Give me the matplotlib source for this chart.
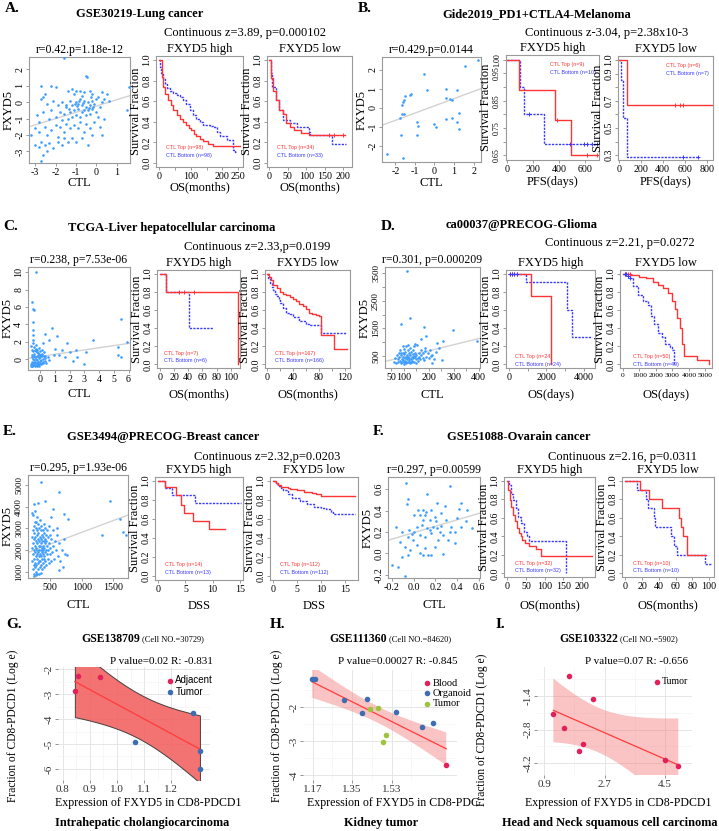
import numpy as np
import matplotlib.pyplot as plt

plt.rcParams['font.family'] = ['Liberation Serif', 'DejaVu Serif']

# ---------------- scatter data (CTL, FXYD5) ----------------
a_pts = [(-1.6, 2.7), (-0.5, 1.6), (-0.45, 1.55), (-2.7, 1.0), (-2.2, 1.0), (-2.0, 0.9), (-1.4, 0.7), (-1.2, 0.8),
         (-1.0, 0.7), (-0.8, 0.7), (-0.6, 0.6), (-0.3, 0.7), (0.3, 0.6), (0.5, 0.5), (1.6, 0.9), (-2.5, 0.5),
         (-1.1, 0.5), (-0.7, 0.4), (-0.2, 0.5), (0.1, 0.3), (0.4, 0.2), (-2.6, 0.3), (-2.7, 0.2), (-2.4, -0.1),
         (-2.1, 0.1), (-1.9, -0.2), (-1.7, 0.0), (-1.5, -0.3), (-1.3, 0.1), (-1.2, -0.2), (-1.0, 0.0), (-0.9, -0.1),
         (-0.8, 0.2), (-0.7, -0.2), (-0.6, 0.1), (-0.5, -0.3), (-0.4, 0.0), (-0.3, -0.2), (-0.2, 0.1), (-0.1, -0.1),
         (0.0, 0.2), (0.2, -0.3), (0.3, 0.0), (0.6, 0.1), (1.5, -0.5), (-2.9, -0.8), (-2.8, -1.2), (-2.6, -0.6),
         (-2.3, -1.0), (-2.2, -0.5), (-2.0, -0.9), (-1.8, -0.6), (-1.7, -1.1), (-1.6, -0.7), (-1.4, -1.0),
         (-1.3, -0.6), (-1.2, -0.9), (-1.1, -0.5), (-1.0, -0.8), (-0.9, -0.4), (-0.8, -0.9), (-0.7, -0.6),
         (-0.6, -0.5), (-0.5, -0.8), (-0.4, -0.5), (-0.3, -0.7), (-0.2, -0.4), (0.0, -0.6), (0.1, -0.9),
         (-1.5, -0.2), (-0.95, -0.25), (-0.35, -0.35), (-3.2, -2.0), (-3.0, -1.6), (-2.8, -1.8), (-2.7, -2.4),
         (-2.5, -1.5), (-2.4, -2.0), (-2.2, -1.7), (-2.0, -1.4), (-1.9, -2.1), (-1.8, -1.5), (-1.6, -1.8),
         (-1.5, -1.3), (-1.3, -1.6), (-1.2, -2.2), (-1.1, -1.4), (-0.9, -1.6), (-0.8, -1.2), (-0.6, -1.8),
         (-0.5, -1.3), (-0.3, -1.6), (-0.1, -1.2), (0.2, -1.5), (0.4, -1.0), (-3.0, -2.6), (-2.8, -2.7),
         (-2.6, -3.2), (-2.5, -2.6), (-2.3, -2.5), (-2.1, -2.8), (-1.9, -2.4), (-1.7, -2.6), (-1.4, -2.4),
         (-1.0, -2.4), (-0.7, -2.2), (-0.4, -2.6), (0.3, -2.0), (-2.7, -3.6), (-2.4, -3.0), (-1.6, -2.2),
         (-0.2, -2.0), (-1.05, -0.1), (-0.65, -0.05), (-0.15, -0.3), (-1.35, -0.4), (-0.85, 0.1), (-0.25, 0.3)]
a_fit = (-0.233, 0.384)

b_pts = [(2.25, 2.54), (1.58, 2.19), (-0.52, 1.77), (-0.40, 0.93), (-1.19, 0.75), (-1.24, 0.70), (-1.53, 0.63),
         (-1.58, 0.40), (-1.61, 0.32), (-1.65, 0.18), (-1.65, -0.30), (-1.75, -0.53), (-1.56, -0.30), (0.61, 0.98),
         (0.61, 0.54), (0.82, 0.46), (0.91, 0.44), (1.16, 0.93), (1.24, -0.25), (0.91, -0.53), (0.57, -0.56),
         (1.16, -0.74), (1.28, -1.09), (-0.89, -0.74), (-0.86, -0.96), (-0.02, -0.86), (0.10, -1.00),
         (-0.91, -1.40), (-1.73, -1.42), (-1.61, -2.65), (-2.40, -2.44)]
b_fit = (0.111, 0.381)

c_pts = [(-0.3, 10.0), (-0.55, 6.6), (-0.5, 5.8), (-0.45, 5.6), (-0.5, 4.3), (-0.5, 3.4), (0.8, 3.6), (0.3, 2.9),
         (-0.5, 2.8), (1.1, 2.7), (3.6, 2.2), (5.5, 4.6), (5.9, 2.0), (5.3, 1.4), (5.5, 0.2), (5.3, 0.5),
         (1.8, 1.8), (2.4, 1.1), (3.1, 0.8), (2.0, 0.8), (1.5, 1.0), (1.0, 1.2), (0.6, 2.2), (0.2, 1.8),
         (1.3, 0.5), (2.2, -0.2), (3.0, -0.6), (1.7, 0.2), (0.9, 0.5), (2.5, 0.2),
         (-0.65, -0.6), (-0.6, -0.3), (-0.6, 0.2), (-0.55, -0.7), (-0.55, 0.5), (-0.5, -0.5), (-0.5, 0.0),
         (-0.5, 0.9), (-0.45, -0.4), (-0.45, 0.3), (-0.4, -0.6), (-0.4, -0.1), (-0.4, 0.6), (-0.35, -0.3),
         (-0.35, 0.2), (-0.3, -0.7), (-0.3, 0.0), (-0.3, 1.2), (-0.25, -0.4), (-0.25, 0.4), (-0.2, -0.5),
         (-0.2, -0.1), (-0.2, 0.8), (-0.15, -0.3), (-0.15, 0.3), (-0.1, -0.6), (-0.1, 0.1), (-0.05, -0.2),
         (-0.05, 0.5), (0.0, -0.4), (0.0, 0.2), (0.05, -0.1), (0.1, -0.5), (0.1, 0.4), (0.15, 0.0),
         (0.2, -0.3), (0.25, 0.3), (0.3, -0.2), (0.35, 0.1), (0.4, -0.4), (0.5, 0.2), (0.6, -0.1),
         (-0.62, 1.5), (-0.58, 1.0), (-0.52, 1.8), (-0.48, 2.2), (-0.42, 1.4), (-0.38, 1.1), (-0.32, 0.9),
         (-0.28, 1.6), (-0.22, 1.0), (-0.18, 0.7), (-0.12, 1.3), (-0.08, 0.6), (-0.02, 0.9), (0.04, 0.5),
         (0.08, 1.1), (0.14, 0.6), (0.22, 0.8), (0.32, 0.3), (-0.66, -0.8), (-0.6, -0.75), (-0.54, -0.8),
         (-0.46, -0.7), (-0.36, -0.8), (-0.26, -0.75), (-0.16, -0.7), (-0.06, -0.8), (0.06, -0.6), (0.18, -0.5)]
c_fit = (0.3, 0.25)

d_pts = [(113, 3570), (126, 1880), (90, 1670), (180, 1550), (296, 1450), (393, 1040), (189, 1230), (170, 1130),
         (257, 1030), (234, 970), (146, 950), (253, 340), (213, 550), (211, 250), (184, 670),
         (60, 300), (65, 420), (70, 250), (72, 520), (75, 380), (78, 300), (80, 600), (82, 450), (85, 330),
         (86, 700), (88, 260), (90, 520), (92, 400), (94, 300), (95, 620), (97, 470), (98, 350), (100, 280),
         (100, 750), (102, 560), (104, 420), (105, 330), (106, 650), (108, 480), (110, 300), (110, 860),
         (112, 540), (114, 390), (115, 280), (116, 700), (118, 470), (120, 350), (120, 600), (122, 420),
         (124, 300), (125, 800), (126, 520), (128, 380), (130, 640), (131, 450), (133, 320), (135, 560),
         (136, 700), (138, 410), (140, 500), (142, 300), (144, 620), (146, 450), (148, 380), (150, 540),
         (152, 900), (155, 420), (158, 330), (160, 600), (162, 480), (165, 380), (168, 720), (170, 520),
         (175, 430), (178, 600), (182, 350), (185, 780), (190, 480), (195, 600), (200, 420), (205, 700),
         (210, 500), (220, 380), (228, 650), (240, 800), (150, 250), (125, 230), (100, 200), (88, 620),
         (140, 850), (118, 900), (96, 850), (132, 270), (108, 240)]
d_fit = (247, 2.205)

e_pts = [(358, 5150), (647, 4660), (315, 4180), (421, 4260), (237, 4120), (1448, 4270), (1606, 3440),
         (1658, 2840), (1700, 2690), (1316, 2680), (552, 3880), (726, 3660), (789, 3420), (516, 3510),
         (606, 3000), (763, 1770), (647, 1080), (221, 3690), (274, 3300),
         (210, 2100), (215, 1500), (220, 2600), (225, 1100), (230, 2900), (232, 1800), (235, 2300), (238, 1300),
         (240, 3100), (242, 2000), (245, 900), (248, 2500), (250, 1600), (252, 2800), (255, 1200), (258, 2200),
         (260, 3300), (262, 1900), (265, 1400), (268, 2600), (270, 1000), (272, 2400), (275, 1700), (278, 3000),
         (280, 2100), (282, 1300), (285, 2700), (288, 1800), (290, 2300), (292, 900), (295, 2900), (298, 1600),
         (300, 2000), (302, 3200), (305, 1400), (308, 2500), (310, 1900), (312, 1100), (315, 2800), (318, 2200),
         (320, 1700), (322, 3000), (325, 1500), (328, 2400), (330, 2000), (332, 1200), (335, 2600), (338, 1800),
         (340, 3400), (342, 2200), (345, 1500), (348, 2900), (350, 2000), (352, 1300), (355, 2500), (358, 1700),
         (360, 3100), (362, 2300), (365, 1900), (368, 1100), (370, 2700), (372, 2100), (375, 1600), (378, 2400),
         (380, 2900), (382, 1800), (385, 2200), (388, 1400), (390, 2600), (392, 2000), (395, 3200), (398, 1700),
         (400, 2400), (402, 1200), (405, 2800), (408, 2100), (410, 1600), (412, 2500), (415, 1900), (418, 3000),
         (420, 2300), (425, 1500), (428, 2700), (430, 2000), (435, 1300), (440, 2400), (445, 1800), (450, 2900),
         (455, 2200), (460, 1600), (465, 2600), (470, 2000), (475, 1400), (480, 3100), (485, 2300), (490, 1800),
         (495, 2700), (500, 2100), (510, 1500), (520, 2500), (530, 1900), (540, 2900), (550, 2200), (560, 1600),
         (575, 2400), (590, 2000), (605, 2700), (620, 1700), (640, 2300), (660, 1500), (680, 2000), (700, 1200),
         (720, 2500), (740, 1800), (250, 800), (280, 850), (320, 900), (360, 950), (225, 3600), (265, 3800),
         (300, 3500)]
e_fit = (1716, 1.095)

f_pts = [(-0.073, 0.66), (0.33, 0.63), (0.127, 0.56), (-0.048, 0.51), (-0.064, 0.46), (0.218, 0.475),
         (0.042, 0.41), (0.088, 0.41), (0.118, 0.39), (0.006, 0.36), (0.058, 0.36), (0.109, 0.36), (0.164, 0.41),
         (0.255, 0.375), (0.194, 0.344), (0.285, 0.44), (0.42, 0.42), (0.436, 0.475), (0.40, 0.33), (0.48, 0.30),
         (-0.158, 0.244), (-0.103, 0.20), (-0.042, 0.22), (0.027, 0.25), (0.073, 0.265), (0.127, 0.234),
         (0.18, 0.25), (0.218, 0.234), (0.255, 0.256), (0.345, 0.25), (0.33, 0.20), (0.376, 0.20), (0.164, 0.19),
         (0.103, 0.156), (0.058, 0.17), (-0.048, 0.156), (-0.003, 0.125), (0.27, 0.17), (-0.124, 0.11),
         (0.027, 0.078), (-0.079, 0.0625), (-0.033, 0.031), (0.103, 0.047), (0.194, 0.0625), (0.058, 0.0),
         (0.088, -0.016), (0.133, -0.016), (0.164, -0.016), (0.27, -0.006), (-0.109, -0.03), (-0.194, -0.11),
         (-0.14, -0.125), (-0.079, -0.21), (-0.048, -0.016), (0.224, 0.125), (0.315, 0.125), (0.376, 0.094),
         (0.148, 0.22), (0.24, 0.20), (0.088, 0.31), (0.148, 0.31), (0.0, 0.20), (-0.018, 0.18), (0.30, 0.31),
         (0.21, 0.30), (0.436, 0.25), (0.54, 0.234), (0.49, 0.41)]
f_fit = (0.194, 0.301)

# ---------------- Kaplan-Meier data (time, survival) ----------------
a_hi_top_t = [0, 8, 13, 20, 28, 36, 44, 55, 65, 75, 86, 95, 102, 110, 118, 128, 139, 155, 171, 255]
a_hi_top_s = [1.0, 0.84, 0.74, 0.67, 0.61, 0.56, 0.51, 0.47, 0.43, 0.40, 0.37, 0.34, 0.32, 0.28, 0.26, 0.23, 0.21, 0.18, 0.16, 0.16]
a_hi_bot_t = [0, 4, 7, 12, 18, 25, 34, 45, 55, 65, 76, 85, 97, 108, 118, 128, 139, 160, 171, 182, 192, 213, 234, 240, 245]
a_hi_bot_s = [1.0, 0.93, 0.87, 0.82, 0.77, 0.73, 0.70, 0.68, 0.66, 0.64, 0.61, 0.57, 0.51, 0.47, 0.43, 0.40, 0.37, 0.36, 0.35, 0.30, 0.26, 0.22, 0.13, 0.11, 0.11]
a_lo_top_t = [0, 6, 11, 17, 25, 36, 45, 55, 68, 85, 106, 205]
a_lo_top_s = [1.0, 0.83, 0.70, 0.61, 0.51, 0.48, 0.39, 0.35, 0.32, 0.29, 0.27, 0.27]
a_lo_top_c = [161, 174, 200]
a_lo_bot_t = [0, 4, 8, 17, 25, 38, 55, 76, 106, 110, 168, 208]
a_lo_bot_s = [1.0, 0.87, 0.74, 0.61, 0.51, 0.42, 0.39, 0.35, 0.30, 0.27, 0.18, 0.18]

b_hi_top_t = [0, 89, 365, 492, 700]
b_hi_top_s = [1.0, 0.889, 0.778, 0.65, 0.65]
b_hi_top_c = [383, 612, 689]
b_hi_bot_t = [0, 102, 128, 281, 700]
b_hi_bot_s = [1.0, 0.9, 0.8, 0.69, 0.69]
b_hi_bot_c = [166, 485, 587, 612, 650, 689]
b_lo_top_t = [0, 70, 858]
b_lo_top_s = [1.0, 0.667, 0.667]
b_lo_top_c = [509, 555, 585]
b_lo_bot_t = [0, 15, 35, 75, 721]
b_lo_bot_s = [1.0, 0.857, 0.571, 0.286, 0.286]
b_lo_bot_c = [585, 721]

c_hi_top_t = [0, 8, 110, 110]
c_hi_top_s = [1.0, 0.8, 0.0, 0.0]
c_hi_top_c = [27, 34, 48]
c_hi_bot_t = [0, 8, 41, 75]
c_hi_bot_s = [1.0, 0.8, 0.4, 0.4]
c_lo_top_t = [0, 3, 6, 10, 15, 20, 25, 30, 35, 40, 45, 50, 55, 60, 65, 70, 75, 80, 83, 103, 123]
c_lo_top_s = [1.0, 0.96, 0.93, 0.88, 0.84, 0.80, 0.78, 0.76, 0.74, 0.72, 0.70, 0.67, 0.64, 0.61, 0.57, 0.55, 0.54, 0.53, 0.32, 0.17, 0.17]
c_lo_bot_t = [0, 2, 5, 8, 10, 13, 15, 18, 20, 25, 30, 35, 40, 50, 60, 65, 83, 122]
c_lo_bot_s = [1.0, 0.95, 0.9, 0.85, 0.82, 0.78, 0.75, 0.71, 0.68, 0.62, 0.57, 0.55, 0.52, 0.48, 0.45, 0.43, 0.35, 0.35]

d_hi_top_t = [0, 1190, 2260]
d_hi_top_s = [1.0, 0.75, 0.0]
d_hi_top_c = [60, 150, 300, 450]
d_hi_bot_t = [0, 940, 3100, 3350, 4430]
d_hi_bot_s = [1.0, 0.91, 0.6, 0.3, 0.3]
d_lo_top_t = [0, 500, 1000, 1400, 1800, 2100, 2450, 2750, 2950, 3150, 3300, 3430, 3570, 3710, 4500, 5200]
d_lo_top_s = [1.0, 0.98, 0.96, 0.95, 0.91, 0.88, 0.84, 0.79, 0.70, 0.61, 0.51, 0.40, 0.23, 0.09, 0.05, 0.0]
d_lo_top_c = [100, 200, 300, 450]
d_lo_bot_t = [0, 300, 400, 600, 900, 1200, 1500, 1700, 1900, 2100, 2350, 2550, 2850, 3000, 3100]
d_lo_bot_s = [1.0, 0.97, 0.95, 0.86, 0.77, 0.70, 0.65, 0.53, 0.44, 0.35, 0.30, 0.23, 0.19, 0.16, 0.0]

e_hi_top_t = [0, 1.2, 3.2, 4.1, 4.7, 6.4, 9.3, 12.3]
e_hi_top_s = [1.0, 0.93, 0.85, 0.75, 0.66, 0.58, 0.49, 0.49]
e_hi_bot_t = [0, 1.2, 2.5, 6.8, 15.3]
e_hi_bot_s = [1.0, 0.92, 0.85, 0.77, 0.77]
e_lo_top_t = [0, 0.5, 1, 1.5, 2, 3, 3.5, 5, 6.5, 8, 9, 10, 17]
e_lo_top_s = [1.0, 0.98, 0.96, 0.94, 0.93, 0.92, 0.91, 0.90, 0.88, 0.87, 0.86, 0.84, 0.84]
e_lo_bot_t = [0, 0.5, 1, 1.5, 2, 3, 4, 5.5, 7, 8.5, 10, 11, 12, 12.5, 17]
e_lo_bot_s = [1.0, 0.97, 0.95, 0.92, 0.90, 0.86, 0.82, 0.79, 0.76, 0.73, 0.72, 0.70, 0.67, 0.65, 0.65]

f_hi_top_t = [0, 2.7, 7, 10.7, 16, 20, 25, 31, 35.6, 40, 46, 58, 75.6, 89, 227]
f_hi_top_s = [1.0, 0.9, 0.79, 0.72, 0.63, 0.56, 0.49, 0.44, 0.40, 0.36, 0.33, 0.29, 0.26, 0.19, 0.19]
f_hi_bot_t = [0, 4.4, 9, 16, 22, 28, 35.6, 44.4, 51.6, 58, 156]
f_hi_bot_s = [1.0, 0.95, 0.86, 0.79, 0.70, 0.61, 0.54, 0.45, 0.40, 0.35, 0.0]
f_lo_top_t = [0, 18, 28, 44, 64, 67, 69, 74, 96]
f_lo_top_s = [1.0, 0.9, 0.8, 0.7, 0.6, 0.5, 0.4, 0.2, 0.2]
f_lo_bot_t = [0, 14, 24.5, 27.5, 34, 35, 55, 58.5, 62, 94, 95.5, 104]
f_lo_bot_s = [1.0, 0.9, 0.8, 0.7, 0.6, 0.5, 0.4, 0.3, 0.2, 0.2, 0.1, 0.1]

# ---------------- single-cell correlation data ----------------
g_adj_x = [0.858, 0.936, 0.845]
g_adj_y = [-2.27, -2.31, -2.85]
g_tum_x = [1.28, 1.068, 1.305, 1.305]
g_tum_y = [-3.74, -4.90, -5.27, -6.01]

h_blood_x = [1.779]
h_blood_y = [-3.71]
h_org_x = [1.168, 1.18, 1.312, 1.419, 1.395, 1.552, 1.67, 1.719]
h_org_y = [-1.18, -1.18, -1.80, -1.77, -2.18, -2.16, -2.59, -2.46]
h_tum_x = [1.432, 1.467, 1.503, 1.49]
h_tum_y = [-2.05, -2.03, -2.83, -3.02]

i_tum_x = [1.646, 2.363, 1.169, 1.479, 2.046, 1.936, 4.503, 4.9]
i_tum_y = [-0.563, -1.54, -2.17, -2.73, -3.42, -3.69, -4.09, -4.33]

# ---------------- figure ----------------
W, H = 719, 831
fig = plt.figure(figsize=(W / 100, H / 100), dpi=100)
RED, BLUE, DOT = '#ff3535', '#3a3aff', '#3d9cff'
SANS = 'Liberation Sans'
TICK = 7.2
LAB = 9


def px_axes(box):
    l, t, r, b = box
    return fig.add_axes([l / W, 1 - b / H, (r - l) / W, (b - t) / H])


def ftext(x, y, s, **kw):
    kw.setdefault('ha', 'center')
    kw.setdefault('va', 'center')
    fig.text(x / W, 1 - y / H, s, **kw)


def r_axes(ax, xt, xtl, yt, ytl, ysize=TICK, xsize=TICK):
    for sp in ax.spines.values():
        sp.set_color('#9a9a9a')
        sp.set_linewidth(0.8)
    ax.tick_params(length=2.5, width=0.6, color='#8a8a8a', labelsize=TICK, pad=1)
    ax.set_xticks(xt)
    ax.set_xticklabels(xtl if xtl else [f'{v:g}' for v in xt], fontsize=xsize)
    ax.set_yticks(yt)
    ax.set_yticklabels(ytl if ytl else [f'{v:g}' for v in yt], rotation=90, va='center', fontsize=ysize)


def labels(box, xl, yl, dy, dx=20):
    l, t, r, b = box
    ftext((l + r) / 2, b + dy, xl, fontsize=LAB)
    ftext(l - dx, (t + b) / 2, yl, fontsize=LAB, rotation=90)


def scatter_panel(box, pts, fit, xlim, ylim, xt, yt, rt, dy, xtl=None, ytl=None, ysize=TICK, xsize=TICK):
    ax = px_axes(box)
    x, y = np.array(pts, dtype=float).T
    xx = np.array(xlim, dtype=float)
    ax.plot(xx, fit[0] + fit[1] * xx, color='#d2d2d2', lw=1.0, zorder=2)
    ax.scatter(x, y, s=3.5, color=DOT, linewidths=0, zorder=3)
    ax.set_xlim(xlim)
    ax.set_ylim(ylim)
    r_axes(ax, xt, xtl, yt, ytl, ysize, xsize)
    labels(box, 'CTL', 'FXYD5', dy)
    ftext((box[0] + box[2]) / 2, box[1] - 7, rt, fontsize=8.5)


def step_at(t, s, c):
    idx = np.searchsorted(t, c, side='right') - 1
    return np.array(s)[idx]


def km_panel(box, top, bot, xlim, xt, title, xl, dy, ns, leg, xtl=None, ylim=(-0.04, 1.04),
             yt=(0, 0.2, 0.4, 0.6, 0.8, 1.0), ytl=('0.0', '0.2', '0.4', '0.6', '0.8', '1.0'),
             top_c=None, bot_c=None, ysize=TICK, xsize=TICK):
    ax = px_axes(box)
    ax.step(bot[0], bot[1], where='post', color=BLUE, lw=1.0, ls=(0, (1.6, 0.9)))
    ax.step(top[0], top[1], where='post', color=RED, lw=1.0)
    if top_c:
        ax.plot(top_c, step_at(top[0], top[1], top_c), '+', color=RED, ms=3.5, mew=0.7)
    if bot_c:
        ax.plot(bot_c, step_at(bot[0], bot[1], bot_c), '+', color=BLUE, ms=3.5, mew=0.7)
    ax.set_xlim(xlim)
    ax.set_ylim(ylim)
    r_axes(ax, xt, xtl, list(yt), list(ytl), ysize, xsize)
    labels(box, xl, 'Survival Fraction', dy)
    ftext((box[0] + box[2]) / 2, box[1] - 7, title, fontsize=9)
    lx, ly1, ly2 = leg
    ax.text(lx, ly1, f'CTL Top (n={ns[0]})', transform=ax.transAxes, color=RED, fontsize=3.9,
            family=SANS, va='center')
    ax.text(lx, ly2, f'CTL Bottom (n={ns[1]})', transform=ax.transAxes, color=BLUE, fontsize=3.9,
            family=SANS, va='center')


def header(letter, lxy, title, txy, cont, cxy):
    ftext(lxy[0], lxy[1], letter, fontsize=11, fontweight='bold', ha='left')
    ftext(txy[0], txy[1], title, fontsize=9, fontweight='bold')
    ftext(cxy[0], cxy[1], cont, fontsize=9)


# ---- A ----
header('A.', (5, 9), 'GSE30219-Lung cancer', (140, 14), 'Continuous z=3.89, p=0.000102', (245, 33))
scatter_panel((29, 57, 130, 163), a_pts, a_fit, (-3.3, 1.65), (-3.7, 2.75), [-3, -2, -1, 0, 1],
              [-3, -2, -1, 0, 1, 2], 'r=0.42.p=1.18e-12', 20)
bl = (0.11, 0.18, 0.105)
km_panel((156, 56, 243, 167), (a_hi_top_t, a_hi_top_s), (a_hi_bot_t, a_hi_bot_s), (-10, 265),
         [0, 50, 100, 150, 200, 250], 'FXYD5 high', 'OS(months)', 20, (98, 98), bl,
         xtl=['0', '', '100', '', '200', '250'])
km_panel((267, 56, 352, 167), (a_lo_top_t, a_lo_top_s), (a_lo_bot_t, a_lo_bot_s), (-6, 223),
         [0, 50, 100, 150, 200], 'FXYD5 low', 'OS(months)', 20, (34, 33), (0.12, 0.18, 0.105),
         top_c=a_lo_top_c)

# ---- B ----
header('B.', (358, 9), 'Gide2019_PD1+CTLA4-Melanoma', (537, 14), 'Continuous z-3.04, p=2.38x10-3', (607, 33))
scatter_panel((382, 57, 481, 162), b_pts, b_fit, (-2.68, 2.38), (-2.84, 2.68), [-2, -1, 0, 1, 2],
              [-2, -1, 0, 1, 2], 'r=0.429.p=0.0144', 21)
km_panel((506, 55, 599, 160), (b_hi_top_t, b_hi_top_s), (b_hi_bot_t, b_hi_bot_s), (-8, 706),
         [0, 200, 400, 600], 'FXYD5 high', 'PFS(days)', 22, (9, 10), (0.475, 0.91, 0.83),
         ylim=(0.632, 1.018), yt=(0.65, 0.70, 0.75, 0.80, 0.85, 0.90, 0.95, 1.00),
         ytl=('0.65', '', '0.75', '', '0.85', '', '0.95', '1.00'), top_c=b_hi_top_c, bot_c=b_hi_bot_c,
         ysize=5.8)
km_panel((618, 56, 713, 160), (b_lo_top_t, b_lo_top_s), (b_lo_bot_t, b_lo_bot_s), (-8, 858),
         [0, 200, 400, 600, 800], 'FXYD5 low', 'PFS(days)', 22, (6, 7), (0.51, 0.91, 0.83),
         ylim=(0.265, 1.03), yt=(0.3, 0.4, 0.5, 0.6, 0.7, 0.8, 0.9, 1.0),
         ytl=('0.3', '', '0.5', '', '0.7', '', '0.9', '1.0'), top_c=b_lo_top_c, bot_c=b_lo_bot_c)

# ---- C ----
header('C.', (3, 227), 'TCGA-Liver hepatocellular carcinoma', (172, 228), 'Continuous z=2.33,p=0.0199', (257, 247))
scatter_panel((28, 267, 130, 370), c_pts, c_fit, (-0.84, 6.1), (-1.26, 10.6), [0, 1, 2, 3, 4, 5, 6],
              [0, 2, 4, 6, 8, 10], 'r=0.238, p=7.53e-06', 24)
cl = (0.08, 0.15, 0.075)
km_panel((157, 270, 240, 368), (c_hi_top_t, c_hi_top_s), (c_hi_bot_t, c_hi_bot_s), (-4, 113),
         [0, 20, 40, 60, 80, 100], 'FXYD5 high', 'OS(months)', 26, (7, 6), cl, top_c=c_hi_top_c)
km_panel((265, 270, 350, 368), (c_lo_top_t, c_lo_top_s), (c_lo_bot_t, c_lo_bot_s), (-3, 128),
         [0, 20, 40, 60, 80, 100, 120], 'FXYD5 low', 'OS(months)', 26, (167, 166), (0.12, 0.15, 0.075),
         xtl=['0', '', '40', '', '80', '', '120'])

# ---- D ----
header('D.', (381, 227), 'ca00037@PRECOG-Glioma', (522, 225), 'Continuous z=2.21, p=0.0272', (620, 243))
scatter_panel((385, 267, 480, 368), d_pts, d_fit, (24, 405), (65, 3720), [50, 100, 150, 200, 250, 300, 350, 400],
              [500, 1000, 1500, 2000, 2500, 3000, 3500], 'r=0.301, p=0.000209', 27,
              xtl=['50', '100', '', '200', '', '300', '', '400'],
              ytl=['500', '', '1500', '', '2500', '', '3500'], ysize=6.5)
km_panel((506, 270, 595, 368), (d_hi_top_t, d_hi_top_s), (d_hi_bot_t, d_hi_bot_s), (-150, 4600),
         [0, 1000, 2000, 3000, 4000], 'FXYD5 high', 'OS(days)', 27, (24, 24), (0.1, 0.12, 0.04),
         xtl=['0', '', '2000', '', '4000'], top_c=d_hi_top_c, bot_c=d_hi_top_c)
km_panel((620, 270, 712, 368), (d_lo_top_t, d_lo_top_s), (d_lo_bot_t, d_lo_bot_s), (-180, 5400),
         [0, 1000, 2000, 3000, 4000, 5000], 'FXYD5 low', 'OS(days)', 27, (50, 49), (0.145, 0.12, 0.04),
         top_c=d_lo_top_c, bot_c=d_lo_top_c, xsize=5.4)

# ---- E ----
header('E.', (3, 432), 'GSE3494@PRECOG-Breast cancer', (163, 437), 'Continuous z=2.32,p=0.0203', (267, 457))
scatter_panel((28, 475, 128, 578), e_pts, e_fit, (150, 1730), (700, 5460), [500, 1000, 1500],
              [1000, 2000, 3000, 4000, 5000], 'r=0.295, p=1.93e-06', 27, ysize=6.3)
km_panel((155, 477, 243, 580), (e_hi_top_t, e_hi_top_s), (e_hi_bot_t, e_hi_bot_s), (-0.6, 15.6),
         [0, 5, 10, 15], 'FXYD5 high', 'DSS', 26, (14, 13), (0.11, 0.15, 0.07))
km_panel((270, 477, 358, 580), (e_lo_top_t, e_lo_top_s), (e_lo_bot_t, e_lo_bot_s), (-0.7, 17.7),
         [0, 5, 10, 15], 'FXYD5 low', 'DSS', 26, (112, 112), (0.11, 0.15, 0.07))

# ---- F ----
header('F.', (373, 432), 'GSE51088-Ovarain cancer', (519, 437), 'Continuous z=2.16, p=0.0311', (622, 457))
scatter_panel((388, 477, 480, 578), f_pts, f_fit, (-0.235, 0.61), (-0.23, 0.715),
              [-0.2, 0.0, 0.2, 0.4, 0.6], [-0.2, 0.0, 0.2, 0.4, 0.6], 'r=0.297, p=0.00599', 27,
              xtl=['-0.2', '0.0', '0.2', '0.4', '0.6'], ytl=['-0.2', '0.0', '0.2', '0.4', '0.6'])
km_panel((504, 477, 595, 577), (f_hi_top_t, f_hi_top_s), (f_hi_bot_t, f_hi_bot_s), (-9, 235),
         [0, 50, 100, 150, 200], 'FXYD5 high', 'OS(months)', 28, (32, 32), (0.12, 0.14, 0.067))
km_panel((622, 477, 714, 577), (f_lo_top_t, f_lo_top_s), (f_lo_bot_t, f_lo_bot_s), (-4, 106),
         [0, 20, 40, 60, 80, 100], 'FXYD5 low', 'OS(months)', 28, (10, 10), (0.12, 0.14, 0.067))


# ---------------- G / H / I ----------------
def gg_panel(box, groups, xlim, ylim, xt, yt, xtl, ytl, tcrit, band_kw):
    ax = px_axes(box)
    x = np.concatenate([np.array(g[0], dtype=float) for g in groups])
    y = np.concatenate([np.array(g[1], dtype=float) for g in groups])
    n = len(x)
    mx, my = x.mean(), y.mean()
    sxx = ((x - mx) ** 2).sum()
    slope = ((x - mx) * (y - my)).sum() / sxx
    icpt = my - slope * mx
    s = np.sqrt(((y - icpt - slope * x) ** 2).sum() / (n - 2))
    xs = np.linspace(x.min(), x.max(), 120)
    yh = icpt + slope * xs
    half = tcrit * s * np.sqrt(1 / n + (xs - mx) ** 2 / sxx)
    ax.fill_between(xs, yh - half, yh + half, zorder=2, **band_kw)
    ax.plot(xs, yh, color='#ff3b3b', lw=0.9, zorder=3)
    for gx, gy, col, lab in groups:
        ax.scatter(gx, gy, s=16, color=col, zorder=4, linewidths=0, label=lab)
    ax.set_xticks(xt)
    ax.set_xticklabels(xtl)
    ax.set_yticks(yt)
    ax.set_yticklabels(ytl, rotation=90, va='center')
    ax.set_xticks([(a + b) / 2 for a, b in zip(xt[:-1], xt[1:])] + [xt[-1] + (xt[1] - xt[0]) / 2], minor=True)
    ax.set_yticks([(a + b) / 2 for a, b in zip(yt[:-1], yt[1:])] + [yt[-1] + (yt[1] - yt[0]) / 2], minor=True)
    ax.set_xlim(xlim)
    ax.set_ylim(ylim)
    ax.set_axisbelow(True)
    ax.grid(True, which='major', color='#e2e2e2', lw=0.6)
    ax.grid(True, which='minor', color='#f1f1f1', lw=0.4)
    for sp in ax.spines.values():
        sp.set_visible(False)
    ax.tick_params(which='major', length=2, width=0.5, color='#666666', labelsize=8, pad=1.5,
                   labelcolor='#333333')
    ax.tick_params(which='minor', length=0)
    return ax


def gg_text(title_b, title_s, tx, pval, px, yl_x, xl_x, xl_text, bottom, bx, yl_y=726):
    ftext(tx, 639, title_b, fontsize=8.5, fontweight='bold', ha='right')
    ftext(tx + 2.5, 639.5, title_s, fontsize=6, ha='left')
    ftext(px, 662, pval, fontsize=8, ha='right')
    ftext(yl_x, yl_y, 'Fraction of CD8-PDCD1 (Log e)', fontsize=8.3, rotation=90)
    ftext(xl_x, 803, xl_text, fontsize=8.6, ha='left')
    ftext(bx, 823, bottom, fontsize=8.8, fontweight='bold')


CRIM, GBLUE, GREEN = '#e2215a', '#3e6db3', '#9cc43c'

ftext(6, 625, 'G.', fontsize=11, fontweight='bold', ha='left')
axg = gg_panel((58, 667, 210, 780), [(g_adj_x, g_adj_y, CRIM, 'Adjacent'), (g_tum_x, g_tum_y, GBLUE, 'Tumor')],
               (0.783, 1.342), (-6.45, -1.9), [0.8, 0.9, 1.0, 1.1, 1.2], [-6, -5, -4, -3, -2],
               ['0.8', '0.9', '1.0', '1.1', '1.2'], ['-6', '-5', '-4', '-3', '-2'], 2.571,
               dict(facecolor='#f26363', alpha=0.9, edgecolor='#333333', linewidth=0.7))
axg.legend(loc='upper left', bbox_to_anchor=(0.67, 0.97), frameon=False, handletextpad=0.1,
           labelspacing=0.15, borderpad=0, handlelength=1.0, prop={'family': SANS, 'size': 7})
gg_text('GSE138709', '(Cell NO.=30729)', 140, 'P value=0.02 R: -0.831', 213, 13, 55,
        'Expression of FXYD5 in CD8-PDCD1', 'Intrahepatic cholangiocarcinoma', 142)

ftext(270, 625, 'H.', fontsize=11, fontweight='bold', ha='left')
axh = gg_panel((303, 670, 457, 780), [(h_blood_x, h_blood_y, CRIM, 'Blood'), (h_org_x, h_org_y, GBLUE, 'Organoid'),
                                      (h_tum_x, h_tum_y, GREEN, 'Tumor')],
               (1.126, 1.828), (-4.15, -0.91), [1.17, 1.35, 1.53], [-4, -3, -2],
               ['1.17', '1.35', '1.53'], ['-4', '-3', '-2'], 2.201,
               dict(facecolor='#f47c7c', alpha=0.45, linewidth=0))
axh.legend(loc='upper left', bbox_to_anchor=(0.74, 0.97), frameon=False, handletextpad=0.05,
           labelspacing=0.1, borderpad=0, handlelength=1.0, prop={'size': 7.5})
gg_text('GSE111360', '(Cell NO.=84620)', 386.7, 'P value=0.00027 R: -0.845', 457, 277, 306.7,
        'Expression of FXYD5 in CD8-PDC', 'Kidney tumor', 381)

ftext(496, 625, 'I.', fontsize=11, fontweight='bold', ha='left')
axi = gg_panel((537, 667, 692, 775), [(i_tum_x, i_tum_y, CRIM, 'Tumor')],
               (0.68, 5.31), (-4.7, -0.19), [0.9, 2.7, 4.5], [-4.2, -2.8, -1.4],
               ['0.9', '2.7', '4.5'], ['-4.2', '-2.8', '-1.4'], 2.447,
               dict(facecolor='#f47c7c', alpha=0.45, linewidth=0))
axi.legend(loc='upper left', bbox_to_anchor=(0.71, 0.95), frameon=False, handletextpad=0.05,
           borderpad=0, handlelength=1.0, prop={'size': 7})
gg_text('GSE103322', '(Cell NO.=5902)', 618, 'P value=0.07 R: -0.656', 688, 482, 525,
        'Expression of FXYD5 in CD8-PDCD1', 'Head and Neck squamous cell carcinoma', 610, yl_y=730)

fig.savefig('out.png', dpi=100, facecolor='white')
